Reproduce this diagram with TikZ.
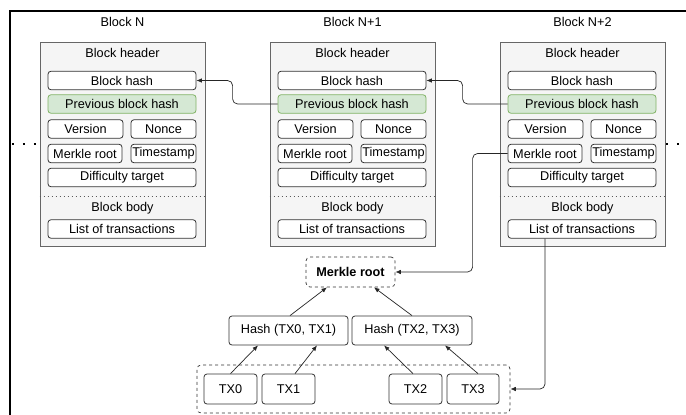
\documentclass[tikz,border=0pt]{standalone}
\usepackage{fontspec}
\setmainfont{Liberation Sans}
\usetikzlibrary{arrows.meta,calc}
\definecolor{cfill}{HTML}{F5F5F5}
\definecolor{cdraw}{HTML}{666666}
\definecolor{gfill}{HTML}{D5E8D4}
\definecolor{gdraw}{HTML}{82B366}
\definecolor{bdraw}{HTML}{333333}
\tikzset{
  every node/.style={font=\fontsize{12.7}{15}\selectfont, inner sep=0pt},
  container/.style={draw=cdraw, fill=cfill, line width=0.8pt, minimum width=165pt, minimum height=204pt},
  field/.style={draw=bdraw, fill=white, rounded corners=3pt, line width=0.8pt, minimum height=18.5pt},
  greenfield/.style={field, draw=gdraw, fill=gfill},
  dashbox/.style={draw=bdraw, dashed, rounded corners=4pt, line width=0.7pt},
  conn/.style={draw=black!85, line width=0.7pt, rounded corners=5pt, -{Latex[length=5.5pt,width=4.5pt]}},
  sep/.style={draw=black!65, line width=1pt, dash pattern=on 1pt off 3pt},
  dotrow/.style={draw=black, line width=2.3pt, dash pattern=on 2.3pt off 8.7pt},
}
\newcommand\mkblock[3]{%
  \node[container] (#1box) at (#2+82.5,144) {};
  \node (#1label) at (#2+82.5,22) {#3};
  \node (#1head) at (#2+82.5,53) {Block header};
  \node[field, minimum width=148pt] (#1hash) at (#2+82,80.5) {Block hash};
  \node[greenfield, minimum width=148pt] (#1prev) at (#2+82,104) {Previous block hash};
  \node[field, minimum width=75pt] (#1ver) at (#2+45.5,129) {Version};
  \node[field, minimum width=65pt] (#1nonce) at (#2+123.5,129) {Nonce};
  \node[field, minimum width=74pt] (#1merkle) at (#2+45,153.5) {Merkle root};
  \node[field, minimum width=65pt] (#1time) at (#2+123.5,153.5) {Timestamp};
  \node[field, minimum width=148pt] (#1diff) at (#2+82,177.5) {Difficulty target};
  \draw[sep] (#1box.west |- 0,196) -- (#1box.east |- 0,196);
  \node (#1body) at (#2+82.5,208) {Block body};
  \node[field, minimum width=148pt] (#1list) at (#2+82,229) {List of transactions};
}
\begin{document}
\begin{tikzpicture}[x=1pt,y=-1pt]
\useasboundingbox[fill=white] (0,0) rectangle (686,415);
\draw[line width=1.5pt] (10,415) -- (10,11) -- (686,11);
\mkblock{na}{40}{Block N}
\mkblock{nb}{270}{Block N+1}
\mkblock{nc}{500}{Block N+2}
\draw[dotrow] (11.85,144) -- (40,144);
\draw[dotrow] (665.85,144) -- (690,144);
% Merkle tree
\node[dashbox, minimum width=89pt, minimum height=30pt, font=\fontsize{12.7}{15}\selectfont\bfseries] (mroot) at (350.5,272) {Merkle root};
\node[field, minimum width=119pt, minimum height=29pt] (h1) at (288.5,330.5) {Hash (TX0, TX1)};
\node[field, minimum width=120pt, minimum height=29pt] (h2) at (412,330.5) {Hash (TX2, TX3)};
\node[dashbox, minimum width=313pt, minimum height=48pt] (txs) at (353.5,389) {};
\node[field, minimum width=53pt, minimum height=30pt] (tx0) at (230.5,389) {TX0};
\node[field, minimum width=53pt, minimum height=30pt] (tx1) at (288.5,389) {TX1};
\node[field, minimum width=53pt, minimum height=30pt] (tx2) at (415.5,389) {TX2};
\node[field, minimum width=52pt, minimum height=30pt] (tx3) at (473,389) {TX3};
% connectors
\draw[conn] (nbprev.west) -- ++(-45,0) |- (nahash.east);
\draw[conn] (ncprev.west) -- ++(-45,0) |- (nbhash.east);
\draw[conn] (ncmerkle.west) -- ++(-35,0) |- (mroot.east);
\draw[conn] ([xshift=-37pt]nclist.south) |- (txs.east);
\draw[conn] ([xshift=1.5pt]h1.north) -- ([xshift=-23.5pt]mroot.south);
\draw[conn] (h2.north) -- ([xshift=23.5pt]mroot.south);
\draw[conn] (tx0.north) -- ([xshift=-30.5pt]h1.south);
\draw[conn] ([xshift=6.5pt]tx1.north) -- ([xshift=28.5pt]h1.south);
\draw[conn] ([xshift=-2.5pt]tx2.north) -- ([xshift=-28pt]h2.south);
\draw[conn] ([xshift=5pt]tx3.north) -- ([xshift=33pt]h2.south);
\end{tikzpicture}
\end{document}
